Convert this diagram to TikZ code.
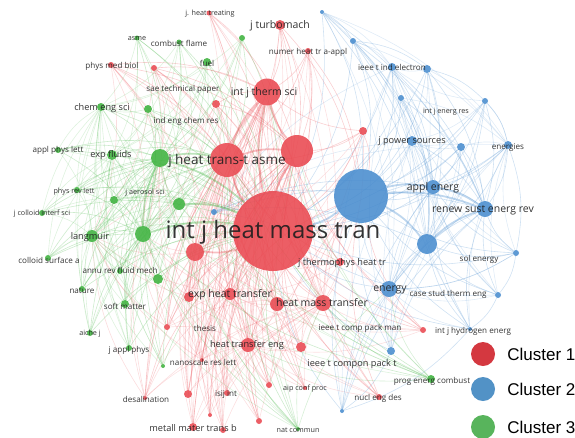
\documentclass[tikz,border=0pt]{standalone}
\usepackage{fontspec}
\setmainfont{Open Sans}
\newfontfamily\legendfont{Liberation Sans}
\usetikzlibrary{backgrounds, positioning}
\definecolor{clusterred}{RGB}{233,72,80}
\definecolor{clusterblue}{RGB}{72,140,206}
\definecolor{clustergreen}{RGB}{62,178,62}
\definecolor{legendred}{RGB}{212,56,64}
\definecolor{legendblue}{RGB}{82,146,198}
\definecolor{legendgreen}{RGB}{88,180,92}
\definecolor{labelgrey}{RGB}{30,30,30}

\tikzset{
  vnode/.style={circle, inner sep=0pt, draw=none, fill opacity=0.88, minimum size=#1},
  rnode/.style={vnode=#1, fill=clusterred},
  bnode/.style={vnode=#1, fill=clusterblue},
  gnode/.style={vnode=#1, fill=clustergreen},
  link/.style={line width=0.6pt, opacity=0.3, bend left=15},
  redlink/.style={link, draw=clusterred!85},
  bluelink/.style={link, draw=clusterblue!85},
  greenlink/.style={link, draw=clustergreen!85},
  hublink/.style={line width=1.8pt, opacity=0.35, bend left=12},
  lbl/.style={inner sep=0pt, text=labelgrey, text opacity=0.9},
  lblxl/.style={lbl, font=\fontsize{24}{24}\selectfont},
  lbll/.style={lbl, font=\fontsize{13.5}{13.5}\selectfont},
  lblm/.style={lbl, font=\fontsize{10.5}{10.5}\selectfont},
  lblms/.style={lbl, font=\fontsize{9.2}{9.2}\selectfont},
  lbls/.style={lbl, font=\fontsize{8.1}{8.1}\selectfont},
  lblxs/.style={lbl, font=\fontsize{7.2}{7.2}\selectfont},
  legtext/.style={inner sep=0pt, font=\legendfont\fontsize{17}{17}\selectfont},
}

\begin{document}
\begin{tikzpicture}[x=1pt, y=-1pt]
  \useasboundingbox (0,0) rectangle (575,437);

  % cluster 1 journals
  \foreach \n/\x/\y/\d in {hmt/273/231/80, jht/227/160/34, rb/297/151/32, its/267/92/27,
      rl/195/252/18, hmtr/323/303/16, r277/277/304/14, htr/248/345/14, eht/230/294/12,
      r189/189/297/10, r301/301/347/10, jtm/280/25/10, r216/216/104/8, r363/363/131/8,
      jth/340/262/8, r188/188/394/8, metall/193/427/8, nht/308/51/6, pmb/111/65/6,
      r154/154/68/6, r167/167/327/6, isij/227/393/6, r269/269/385/6, nucl/379/397/6,
      r259/259/421/6, r223/223/430/6, r423/423/330/6, jhtr/209/13/5, nano/202/360/4,
      aip/305/388/4, r210/210/415/4, desal/145/398/4}
    \node[rnode=\d] (\n) at (\x,\y) {};

  % cluster 2 journals
  \foreach \n/\x/\y/\d in {bh/361/196/54, b2/427/244/20, rser/485/209/16, energy/389/289/16,
      ae/433/187/14, jps/412/141/10, b461/461/147/8, en/508/145/8, iei/392/67/8,
      b427/427/69/8, b391/391/351/8, b401/401/98/6, b485/485/101/6, b353/353/41/6,
      b214/214/212/6, b498/498/295/6, b516/516/253/6, b322/322/12/4, hyd/470/329/4,
      b342/342/411/4}
    \node[bnode=\d] (\n) at (\x,\y) {};

  % cluster 3 journals
  \foreach \n/\x/\y/\d in {g2/160/158/18, g1/143/234/16, g179/179/204/12, langmuir/92/236/12,
      expf/112/155/10, g158/158/279/10, ces/101/107/8, g148/148/109/8, fuel/207/62/8,
      g114/114/200/8, soft/125/304/8, prog/431/379/8, g242/242/38/6, apl/58/150/6,
      prl/77/190/6, jcis/42/213/6, csa/48/258/6, arfm/120/271/6, nature/82/289/6,
      aiche/90/333/6, jap/129/348/6, asme/137/38/5, cfl/179/42/5, g163/163/366/4,
      natc/298/429/4}
    \node[gnode=\d] (\n) at (\x,\y) {};

  % links
  \begin{scope}[on background layer]
    % red
    \foreach \a in {rl, hmtr, r277, htr, eht, r189, r301, jtm, r216, r363, jth, r188, metall,
        nht, pmb, r154, r167, isij, r269, nucl, r259, r223, r423, jhtr, nano, aip, r210, desal}
      \foreach \b in {hmt, jht, rb, its}
        \draw[redlink] (\a) to (\b);
    \foreach \a in {r277, r189, r301, jtm, r216, r363, jth, r188, metall, nht, pmb, r154,
        r167, isij, r269, nucl, r259, r223, r423, jhtr, nano, aip, r210, desal}
      \foreach \b in {rl, hmtr, eht, htr}
        \draw[redlink, opacity=0.2] (\a) to (\b);
    \foreach \a in {hmtr, jth, r363, r423, nucl, r301, eht, htr, nht, jtm, r269}
      \draw[redlink] (\a) to (bh);
    \foreach \a in {rl, eht, r189, r167, pmb, r154, desal, nano, r216}
      \foreach \b in {g1, g2, langmuir}
        \draw[redlink, opacity=0.22] (\a) to (\b);
    % blue
    \foreach \a in {energy, ae, jps, b461, en, iei, b427, b391, b401, b485, b353, b214,
        b498, b516, b322, hyd, b342}
      \foreach \b in {bh, b2, rser, ae, hmt}
        \draw[bluelink] (\a) to (\b);
    \foreach \a in {b461, b427, b391, b401, b485, b353, b214, b498, b516, b322, hyd, b342}
      \foreach \b in {jps, energy, en, iei}
        \draw[bluelink, opacity=0.2] (\a) to (\b);
    \foreach \a/\b in {en/b516, b516/b498, b498/hyd, b485/en, b427/b485, b353/b427,
        b322/b353, hyd/b342, b391/b342, b516/energy}
      \draw[bluelink] (\a) to (\b);
    % green
    \foreach \a in {g179, langmuir, expf, g158, ces, g148, fuel, g114, soft, prog, g242,
        apl, prl, jcis, csa, arfm, nature, aiche, jap, asme, cfl, g163, natc}
      \foreach \b in {g1, g2, hmt, jht}
        \draw[greenlink] (\a) to (\b);
    \foreach \a in {g158, g148, fuel, g114, soft, prog, g242, apl, prl, jcis, csa, arfm,
        nature, aiche, jap, asme, cfl, g163, natc}
      \foreach \b in {langmuir, expf, ces, g179}
        \draw[greenlink, opacity=0.2] (\a) to (\b);
    \foreach \a in {prog, natc}
      \foreach \b in {hmtr, htr, energy, rb, its}
        \draw[greenlink, opacity=0.25] (\a) to (\b);
    % hubs
    \foreach \a/\b in {hmt/jht, hmt/rb, hmt/its, jht/rb, jht/its, rb/its, hmt/rl}
      \draw[hublink, draw=clusterred] (\a) to (\b);
    \foreach \a/\b in {bh/hmt, bh/b2, bh/ae, b2/rser, ae/rser, bh/rser}
      \draw[hublink, draw=clusterblue] (\a) to (\b);
    \foreach \a/\b in {g1/hmt, g2/jht, g1/g2, g2/hmt, g179/hmt}
      \draw[hublink, draw=clustergreen] (\a) to (\b);
  \end{scope}

  % labels
  \node[lblxl] (l-hmt) at (273,232) {int j heat mass tran};
  \node[lbll] (l-jht) at (227,161) {j heat trans-t asme};
  \foreach \n/\x/\y/\t in {its/264/93/int j therm sci, ae/433/188/appl energ,
      rser/483/210/renew sust energ rev, energy/390/290/energy, hmtr/322/303/heat mass transfer,
      eht/230/295/exp heat transfer, jtm/280/26/j turbomach}
    \node[lblm] (l-\n) at (\x,\y) {\t};
  \foreach \n/\x/\y/\t in {jps/412/141/j power sources, htr/247/345/heat transfer eng,
      compt/352/364/ieee t compon pack t, langmuir/90/237/langmuir, expf/111/155/exp fluids,
      ces/102/108/chem eng sci, jth/342/263/j thermophys heat tr, metall/193/428/metall mater trans b}
    \node[lblms] (l-\n) at (\x,\y) {\t};
  \foreach \n/\x/\y/\t in {pmb/112/66/phys med biol, nht/308/52/numer heat tr a-appl,
      fuel/207/63/fuel, iei/392/67/ieee t ind electron, en/508/147/energies,
      sol/479/259/sol energy, csth/448/294/case stud therm eng, hyd/473/331/int j hydrogen energ,
      prog/432/381/prog energ combust, nucl/378/398/nucl eng des, comppm/360/328/ieee t comp pack man,
      isij/226/394/isij int, nano/203/362/nanoscale res lett, thesis/205/328/thesis,
      jap/129/350/j appl phys, soft/125/306/soft matter, nature/82/291/nature,
      arfm/120/270/annu rev fluid mech, csa/49/260/colloid surface a, apl/58/150/appl phys lett,
      cfl/179/43/combust flame, ind/186/121/ind eng chem res, sae/183/89/sae technical paper,
      desal/146/399/desalination}
    \node[lbls] (l-\n) at (\x,\y) {\t};
  \foreach \n/\x/\y/\t in {asme/137/39/asme, jhtr/210/14/j. heat treating, aiche/90/334/aiche j,
      prl/74/192/phys rev lett, jas/145/193/j aerosol sci, jcis/42/214/j colloid interf sci,
      aip/305/389/aip conf proc, ijer/446/112/int j energ res, natc/298/430/nat commun}
    \node[lblxs] (l-\n) at (\x,\y) {\t};

  % legend
  \node[vnode=24, fill=legendred, fill opacity=1] (c1) at (483,354) {};
  \node[vnode=24, fill=legendblue, fill opacity=1] (c2) at (483,389) {};
  \node[vnode=24, fill=legendgreen, fill opacity=1] (c3) at (483,427) {};
  \node[legtext, right=12pt of c1] (c1-t) {Cluster 1};
  \node[legtext, right=12pt of c2] (c2-t) {Cluster 2};
  \node[legtext, right=12pt of c3] (c3-t) {Cluster 3};
\end{tikzpicture}
\end{document}
